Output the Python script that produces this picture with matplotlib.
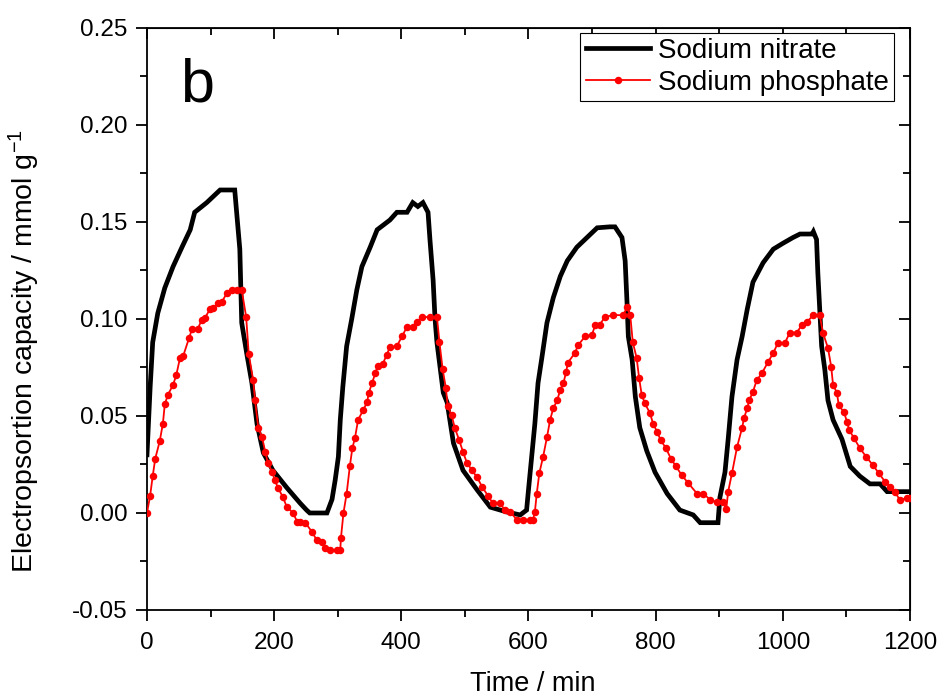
import matplotlib
matplotlib.use("Agg")
import matplotlib.pyplot as plt
from matplotlib.ticker import MultipleLocator, FormatStrFormatter

plt.rcParams['font.family'] = ['Liberation Sans', 'DejaVu Sans']
plt.rcParams['mathtext.fontset'] = 'custom'
plt.rcParams['mathtext.rm'] = 'Liberation Sans'
plt.rcParams['mathtext.it'] = 'Liberation Sans:italic'
plt.rcParams['axes.unicode_minus'] = False

# Sodium nitrate (time in min, capacity in mmol/g)
nitrate_t = [0, 5, 9, 17, 28, 41, 55, 68, 75, 94, 115, 138, 141, 146, 149, 157, 165, 173,
             183, 198, 220, 241, 251, 256, 283, 291, 296, 301, 304, 308, 314, 322, 330, 338,
             351, 362, 382, 393, 409, 418, 426, 434, 442, 445, 450, 453, 456, 466, 472, 482,
             497, 519, 540, 566, 587, 597, 600, 605, 610, 615, 621, 629, 639, 650, 661, 676,
             692, 708, 728, 736, 747, 752, 755, 757, 763, 768, 775, 786, 799, 818, 838, 859,
             870, 898, 901, 909, 914, 920, 928, 936, 944, 953, 969, 985, 1000, 1016, 1027,
             1046, 1048, 1053, 1055, 1058, 1061, 1066, 1071, 1079, 1093, 1106, 1121, 1137,
             1153, 1164, 1200]
nitrate_v = [0.030, 0.065, 0.088, 0.103, 0.116, 0.127, 0.137, 0.146, 0.155, 0.160, 0.1665,
             0.1665, 0.155, 0.136, 0.098, 0.082, 0.067, 0.046, 0.031, 0.022, 0.013, 0.005,
             0.0015, 0.0, 0.0, 0.007, 0.017, 0.029, 0.048, 0.065, 0.086, 0.100, 0.115, 0.127,
             0.137, 0.146, 0.151, 0.155, 0.155, 0.160, 0.158, 0.160, 0.155, 0.141, 0.120,
             0.100, 0.088, 0.062, 0.057, 0.036, 0.022, 0.012, 0.003, 0.0005, -0.001, 0.0015,
             0.012, 0.029, 0.046, 0.067, 0.080, 0.098, 0.111, 0.122, 0.130, 0.137, 0.142,
             0.147, 0.1475, 0.1475, 0.142, 0.130, 0.108, 0.091, 0.079, 0.060, 0.044, 0.032,
             0.021, 0.010, 0.0015, -0.001, -0.005, -0.005, 0.008, 0.021, 0.038, 0.060, 0.079,
             0.091, 0.105, 0.119, 0.129, 0.136, 0.139, 0.142, 0.1438, 0.1438, 0.145, 0.141,
             0.124, 0.105, 0.086, 0.074, 0.058, 0.048, 0.038, 0.024, 0.019, 0.015, 0.015,
             0.011, 0.011]

# Sodium phosphate
phosphate_t = [0, 5, 9, 13, 20, 25, 28, 33, 41, 46, 52, 57, 66, 71, 80, 86, 91, 99, 104, 112,
               118, 126, 134, 141, 149, 156, 160, 167, 170, 175, 181, 186, 190, 197, 201, 206,
               214, 220, 230, 236, 241, 249, 260, 267, 275, 280, 288, 299, 304, 305, 309, 314,
               319, 323, 327, 332, 340, 346, 349, 354, 359, 363, 371, 377, 382, 393, 401, 409,
               418, 425, 432, 445, 456, 460, 465, 470, 473, 479, 484, 491, 497, 503, 511, 519,
               527, 536, 544, 555, 563, 571, 582, 592, 602, 607, 610, 613, 617, 623, 629, 634,
               639, 645, 650, 655, 659, 662, 673, 678, 689, 700, 705, 712, 720, 733, 749, 755,
               760, 764, 770, 774, 778, 783, 791, 796, 802, 808, 816, 824, 832, 841, 851, 865,
               875, 886, 896, 906, 911, 914, 920, 928, 936, 939, 944, 947, 953, 959, 967, 977,
               985, 992, 1003, 1011, 1022, 1030, 1038, 1048, 1058, 1063, 1071, 1076, 1079, 1085,
               1088, 1096, 1101, 1104, 1112, 1121, 1131, 1142, 1151, 1161, 1169, 1176, 1184,
               1195, 1200]
phosphate_v = [0.000, 0.009, 0.019, 0.028, 0.037, 0.046, 0.056, 0.061, 0.066, 0.071, 0.080,
               0.081, 0.090, 0.095, 0.095, 0.0995, 0.1005, 0.105, 0.1055, 0.108, 0.109, 0.1135,
               0.115, 0.115, 0.115, 0.101, 0.082, 0.0685, 0.058, 0.044, 0.039, 0.0315, 0.026,
               0.021, 0.017, 0.013, 0.008, 0.003, 0.000, -0.0045, -0.0045, -0.005, -0.010,
               -0.014, -0.015, -0.018, -0.019, -0.019, -0.019, -0.013, 0.000, 0.010, 0.024,
               0.0335, 0.0385, 0.048, 0.053, 0.057, 0.062, 0.067, 0.072, 0.076, 0.077, 0.0815,
               0.0855, 0.086, 0.091, 0.096, 0.096, 0.0985, 0.101, 0.101, 0.101, 0.088, 0.074,
               0.0645, 0.055, 0.0505, 0.044, 0.0375, 0.0315, 0.026, 0.022, 0.0185, 0.0135,
               0.009, 0.005, 0.005, 0.0015, 0.0005, -0.0035, -0.0035, -0.0035, -0.0035, 0.0005,
               0.010, 0.0205, 0.029, 0.039, 0.048, 0.054, 0.058, 0.0635, 0.067, 0.0725, 0.0775,
               0.0825, 0.0865, 0.091, 0.092, 0.097, 0.097, 0.101, 0.102, 0.102, 0.106, 0.102,
               0.088, 0.080, 0.0695, 0.061, 0.0565, 0.0515, 0.046, 0.042, 0.0375, 0.0335, 0.028,
               0.024, 0.0195, 0.0155, 0.010, 0.010, 0.0067, 0.0057, 0.0057, 0.002, 0.011,
               0.0205, 0.034, 0.044, 0.049, 0.054, 0.058, 0.0625, 0.0685, 0.072, 0.078, 0.0825,
               0.0875, 0.0875, 0.093, 0.093, 0.097, 0.0985, 0.102, 0.102, 0.093, 0.085, 0.0755,
               0.066, 0.062, 0.0555, 0.052, 0.047, 0.043, 0.0385, 0.0335, 0.029, 0.0245, 0.0205,
               0.016, 0.0135, 0.011, 0.0067, 0.0077, 0.0077]

fig = plt.figure(figsize=(9.44, 7.0), dpi=100)
ax = fig.add_axes([0.1557, 0.1286, 0.964 - 0.1557, 0.96 - 0.1286])

ax.plot(nitrate_t, nitrate_v, color='black', lw=3.4, label='Sodium nitrate',
        solid_joinstyle='miter', zorder=2)
ax.plot(phosphate_t, phosphate_v, color='red', lw=1.3, marker='o', ms=5.4,
        markeredgewidth=0, label='Sodium phosphate', zorder=3)

ax.set_xlim(0, 1200)
ax.set_ylim(-0.05, 0.25)
ax.xaxis.set_major_locator(MultipleLocator(200))
ax.xaxis.set_minor_locator(MultipleLocator(100))
ax.yaxis.set_major_locator(MultipleLocator(0.05))
ax.yaxis.set_minor_locator(MultipleLocator(0.025))
ax.yaxis.set_major_formatter(FormatStrFormatter('%.2f'))

ax.tick_params(which='both', direction='out', width=1.3, labelsize=17.5, top=False, right=False)
ax.tick_params(which='major', length=8)
ax.tick_params(axis='y', which='major', pad=6)
ax.tick_params(axis='x', which='major', pad=8)
ax.tick_params(which='minor', length=5)
for s in ax.spines.values():
    s.set_linewidth(1.3)

sx = ax.secondary_xaxis('top')
sx.xaxis.set_major_locator(MultipleLocator(200))
sx.xaxis.set_minor_locator(MultipleLocator(100))
sx.tick_params(which='both', direction='in', width=1.3, labeltop=False)
sx.tick_params(which='major', length=8)
sx.tick_params(which='minor', length=5)
sy = ax.secondary_yaxis('right')
sy.yaxis.set_major_locator(MultipleLocator(0.05))
sy.yaxis.set_minor_locator(MultipleLocator(0.025))
sy.tick_params(which='both', direction='in', width=1.3, labelright=False)
sy.tick_params(which='major', length=8)
sy.tick_params(which='minor', length=5)

ax.set_xlabel('Time / min', fontsize=19.5)
ax.xaxis.set_label_coords(0.505, -0.105)
ax.set_ylabel('Electropsortion capacity / mmol g$^{-1}$', fontsize=20.5)
ax.yaxis.set_label_coords(-0.137, 0.445)

ax.text(0.043, 0.95, 'b', transform=ax.transAxes, fontsize=44, va='top', ha='left')

leg = ax.legend(loc='upper right', bbox_to_anchor=(0.983, 0.997), fontsize=20,
                frameon=True, fancybox=False, edgecolor='black', framealpha=1,
                borderpad=0.2, handlelength=2.3, handletextpad=0.3, labelspacing=0.2,
                numpoints=1, borderaxespad=0.1)
leg.get_frame().set_linewidth(0.8)

fig.savefig('out.png', dpi=100)
